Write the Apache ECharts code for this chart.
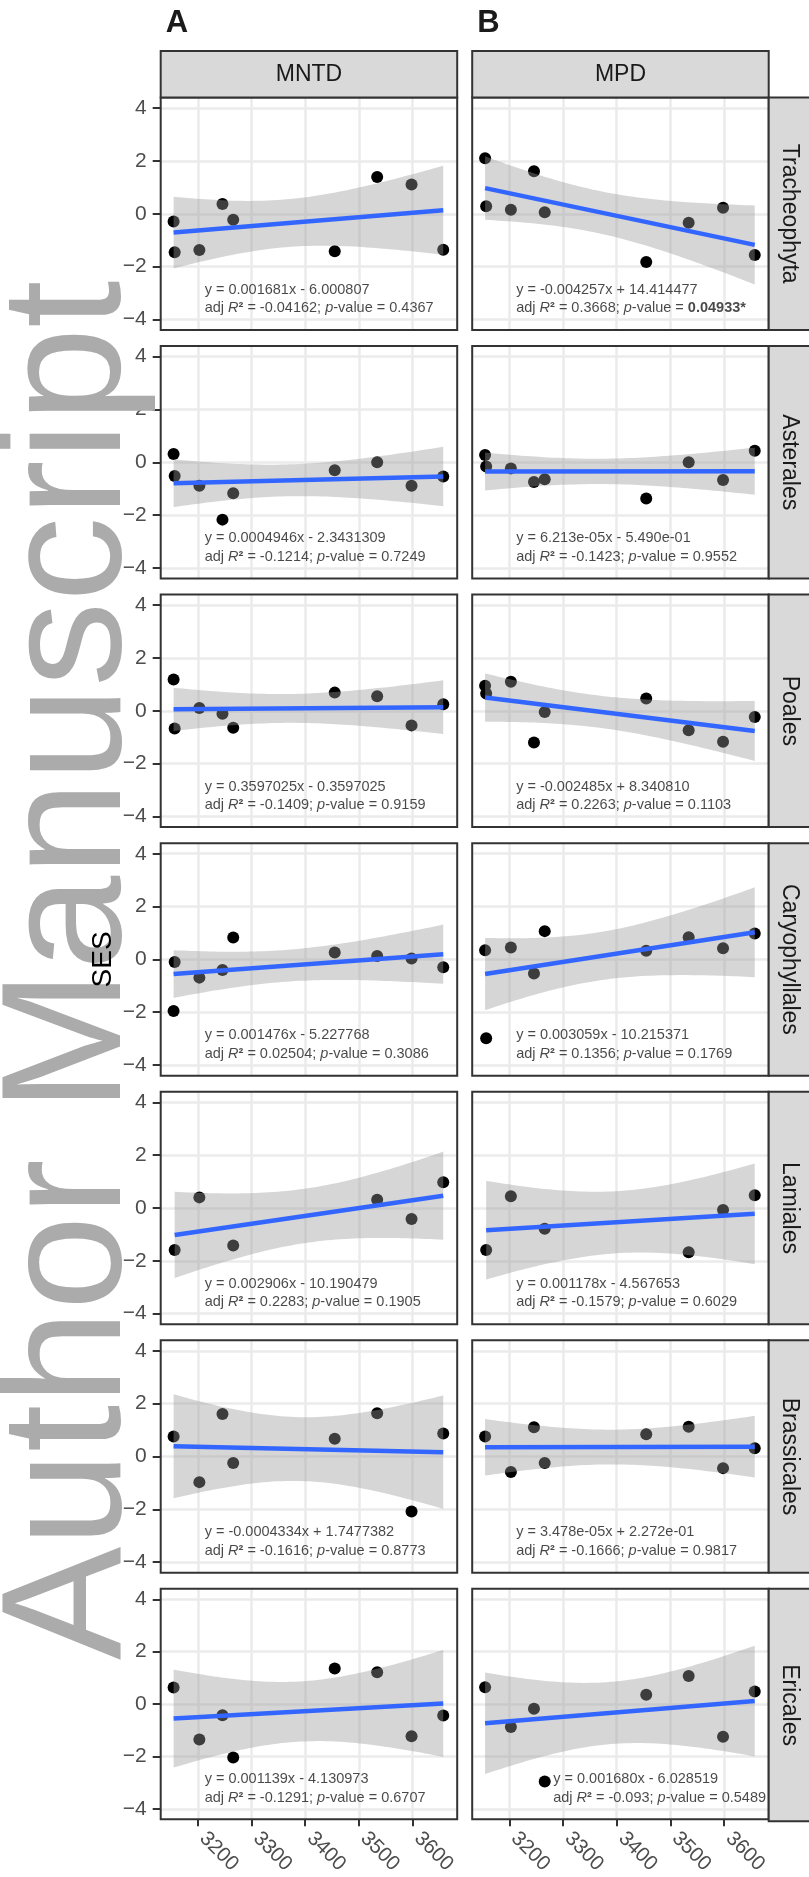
<!DOCTYPE html>
<html>
<head>
<meta charset="utf-8">
<script src="https://cdn.jsdelivr.net/npm/echarts@6/dist/echarts.min.js"></script>
<style>
html, body { margin: 0; padding: 0; background: #ffffff; }
#chart { width: 809px; height: 1877px; }
</style>
</head>
<body>
<div id="chart"></div>
<script>
// ---------------- data ----------------
const taxa = ['Tracheophyta', 'Asterales', 'Poales', 'Caryophyllales', 'Lamiales', 'Brassicales', 'Ericales'];
const metrics = ['MNTD', 'MPD'];
const elevation = [3155, 3157, 3203, 3246, 3266, 3455, 3534, 3598, 3657];
const xTicks = [3200, 3300, 3400, 3500, 3600];
const yTicks = [-4, -2, 0, 2, 4];

const tracheophytaMNTD = [-0.29, -1.46, -1.37, 0.37, -0.23, -1.42, 1.39, 1.11, -1.36];
const tracheophytaMPD = [2.10, 0.28, 0.15, 1.61, 0.06, -1.83, -0.34, 0.23, -1.56];
const asteralesMNTD = [0.31, -0.52, -0.89, -2.17, -1.17, -0.30, 0.00, -0.89, -0.54];
const asteralesMPD = [0.28, -0.16, -0.23, -0.75, -0.64, -1.37, 0.00, -0.67, 0.44];
const poalesMNTD = [1.19, -0.67, 0.11, -0.11, -0.64, 0.69, 0.55, -0.55, 0.25];
const poalesMPD = [0.95, 0.66, 1.10, -1.20, -0.04, 0.47, -0.73, -1.17, -0.23];
const caryophyllalesMNTD = [-1.95, -0.10, -0.69, -0.40, 0.83, 0.26, 0.13, 0.03, -0.30];
const caryophyllalesMPD = [0.35, -2.98, 0.45, -0.53, 1.07, 0.33, 0.84, 0.42, 0.98];
const lamialesMNTD = [null, -1.59, 0.40, null, -1.42, null, 0.31, -0.42, 0.97];
const lamialesMPD = [null, -1.59, 0.44, null, -0.79, null, -1.68, -0.08, 0.48];
const brassicalesMNTD = [0.76, null, -0.97, 1.61, -0.25, 0.67, 1.64, -2.08, 0.87];
const brassicalesMPD = [0.76, null, -0.59, 1.11, -0.25, 0.84, 1.13, -0.44, 0.31];
const ericalesMNTD = [0.63, null, -1.35, -0.43, -2.04, 1.36, 1.21, -1.23, -0.44];
const ericalesMPD = [0.64, null, -0.88, -0.18, -2.96, 0.35, 1.07, -1.25, 0.48];

const equationsMNTD = ['y = 0.001681x - 6.000807', 'y = 0.0004946x - 2.3431309', 'y = 0.3597025x - 0.3597025',
  'y = 0.001476x - 5.227768', 'y = 0.002906x - 10.190479', 'y = -0.0004334x + 1.7477382', 'y = 0.001139x - 4.130973'];
const equationsMPD = ['y = -0.004257x + 14.414477', 'y = 6.213e-05x - 5.490e-01', 'y = -0.002485x + 8.340810',
  'y = 0.003059x - 10.215371', 'y = 0.001178x - 4.567653', 'y = 3.478e-05x + 2.272e-01', 'y = 0.001680x - 6.028519'];
const adjR2MNTD = ['-0.04162', '-0.1214', '-0.1409', '0.02504', '0.2283', '-0.1616', '-0.1291'];
const adjR2MPD = ['0.3668', '-0.1423', '0.2263', '0.1356', '-0.1579', '-0.1666', '-0.093'];
const pValueMNTD = ['0.4367', '0.7249', '0.9159', '0.3086', '0.1905', '0.8773', '0.6707'];
const pValueMPD = ['0.04933', '0.9552', '0.1103', '0.1769', '0.6029', '0.9817', '0.5489'];
const significantMPD = [true, false, false, false, false, false, false];
const labelXMNTD = [3211, 3211, 3211, 3211, 3211, 3211, 3211];
const labelXMPD = [3211, 3211, 3211, 3211, 3211, 3211, 3280];
const labelY = -3.225;

const sesMNTD = [tracheophytaMNTD, asteralesMNTD, poalesMNTD, caryophyllalesMNTD, lamialesMNTD, brassicalesMNTD, ericalesMNTD];
const sesMPD = [tracheophytaMPD, asteralesMPD, poalesMPD, caryophyllalesMPD, lamialesMPD, brassicalesMPD, ericalesMPD];

// ---------------- layout ----------------
const colLeft = [160.7, 472.2];
const colWidth = 296.5;
const rowTop0 = 97.5;
const rowPitch = 248.55;
const rowHeight = 232.5;
const stripTop = 51;
const stripSide = 42;
const SANS = '"Liberation Sans", Arial, Helvetica, sans-serif';
const X_MIN = 3131, X_MAX = 3683, Y_MIN = -4.4, Y_MAX = 4.4;

const T975 = {4: 2.7764, 5: 2.5706, 6: 2.4469, 7: 2.3646};

function fitModel(xs, ys) {
  const pts = [];
  xs.forEach((x, i) => { if (ys[i] !== null) pts.push([x, ys[i]]); });
  const n = pts.length;
  const xbar = pts.reduce((a, p) => a + p[0], 0) / n;
  const ybar = pts.reduce((a, p) => a + p[1], 0) / n;
  let sxx = 0, sxy = 0;
  pts.forEach(p => { sxx += (p[0] - xbar) ** 2; sxy += (p[0] - xbar) * (p[1] - ybar); });
  const b = sxy / sxx, a = ybar - b * xbar;
  let sse = 0;
  pts.forEach(p => { sse += (p[1] - a - b * p[0]) ** 2; });
  const s = Math.sqrt(sse / (n - 2));
  const t = T975[n - 2];
  const xmin = Math.min(...pts.map(p => p[0])), xmax = Math.max(...pts.map(p => p[0]));
  const band = [];
  const steps = 60;
  for (let k = 0; k <= steps; k++) {
    const x = xmin + (xmax - xmin) * k / steps;
    const yh = a + b * x;
    const se = s * Math.sqrt(1 / n + (x - xbar) ** 2 / sxx);
    band.push([x, yh - t * se, yh + t * se]);
  }
  return { pts, a, b, xmin, xmax, band };
}

const grids = [], xAxes = [], yAxes = [], series = [];
const ANN = { fontFamily: SANS, fontSize: 14.5, color: '#1a1a1a', lineHeight: 18.5 };
const richStyles = {
  n: Object.assign({}, ANN),
  i: Object.assign({}, ANN, { fontStyle: 'italic' }),
  s: Object.assign({}, ANN, { fontWeight: 'bold' }),
  b: Object.assign({}, ANN, { fontWeight: 'bold' })
};

function annotation(eq, r2, p, sig) {
  const pPart = sig ? '{b|' + p + '*}' : '{n|' + p + '}';
  return '{n|' + eq + '}\n{n|adj }{i|R}{s|\u00b2}{n| = ' + r2 + '; }{i|p}{n|-value = }' + pPart;
}

taxa.forEach((taxon, r) => {
  metrics.forEach((metric, c) => {
    const gi = grids.length;
    const bottom = r === taxa.length - 1;
    grids.push({
      left: colLeft[c], top: rowTop0 + r * rowPitch, width: colWidth, height: rowHeight,
      show: true, borderColor: '#333333', borderWidth: 2, backgroundColor: 'transparent', z: 5
    });
    xAxes.push({
      type: 'value', gridIndex: gi, min: X_MIN, max: X_MAX, splitNumber: 5, minInterval: 100, maxInterval: 100,
      axisLine: { show: false, onZero: false },
      axisTick: { show: bottom, length: 7, lineStyle: { color: '#333333', width: 2 }, customValues: xTicks },
      axisLabel: {
        show: bottom, customValues: xTicks, rotate: -45, margin: 11, padding: [0, 0, 0, 7],
        fontFamily: SANS, fontSize: 20.5, color: '#4d4d4d',
        formatter: v => String(v)
      },
      splitLine: { show: true, lineStyle: { color: '#ebebeb', width: 2.5 } }
    });
    yAxes.push({
      type: 'value', gridIndex: gi, min: Y_MIN, max: Y_MAX, splitNumber: 5, minInterval: 2, maxInterval: 2,
      axisLine: { show: false, onZero: false },
      axisTick: { show: c === 0, length: 8, lineStyle: { color: '#333333', width: 2 }, customValues: yTicks },
      axisLabel: {
        show: c === 0, customValues: yTicks, margin: 14, fontFamily: SANS, fontSize: 21, color: '#4d4d4d',
        formatter: v => (v < 0 ? '\u2212' + Math.abs(v) : String(v))
      },
      splitLine: { show: true, lineStyle: { color: '#ebebeb', width: 2.5 } }
    });

    const ys = c === 0 ? sesMNTD[r] : sesMPD[r];
    const m = fitModel(elevation, ys);

    series.push({
      type: 'scatter', xAxisIndex: gi, yAxisIndex: gi, data: m.pts, symbolSize: 12,
      itemStyle: { color: '#000000', opacity: 1 }, z: 2, silent: true
    });
    series.push({
      type: 'custom', xAxisIndex: gi, yAxisIndex: gi, z: 3, silent: true, clip: true,
      data: [[m.band[0][0], m.band[0][1]]],
      renderItem: (params, api) => {
        const upper = m.band.map(q => api.coord([q[0], q[2]]));
        const lower = m.band.map(q => api.coord([q[0], q[1]])).reverse();
        return { type: 'polygon', shape: { points: upper.concat(lower) }, style: { fill: 'rgba(153,153,153,0.4)' } };
      }
    });
    series.push({
      type: 'line', xAxisIndex: gi, yAxisIndex: gi, z: 4, silent: true, symbol: 'none',
      data: [[m.xmin, m.a + m.b * m.xmin], [m.xmax, m.a + m.b * m.xmax]],
      lineStyle: { color: '#3366FF', width: 4.5 }
    });
    const eq = c === 0 ? equationsMNTD[r] : equationsMPD[r];
    const r2 = c === 0 ? adjR2MNTD[r] : adjR2MPD[r];
    const pv = c === 0 ? pValueMNTD[r] : pValueMPD[r];
    const sig = c === 0 ? false : significantMPD[r];
    const lx = c === 0 ? labelXMNTD[r] : labelXMPD[r];
    series.push({
      type: 'scatter', xAxisIndex: gi, yAxisIndex: gi, z: 6, silent: true, symbolSize: 2,
      itemStyle: { color: 'rgba(0,0,0,0)' },
      data: [[lx, labelY]],
      label: {
        show: true, position: 'right', distance: 0, align: 'left', verticalAlign: 'middle',
        formatter: annotation(eq, r2, pv, sig), rich: richStyles
      }
    });
  });
});

// ---------------- strips, titles, watermark ----------------
const graphics = [];
metrics.forEach((metric, c) => {
  graphics.push({
    type: 'rect', shape: { x: colLeft[c], y: stripTop, width: colWidth, height: rowTop0 - stripTop },
    style: { fill: '#d9d9d9', stroke: '#333333', lineWidth: 2 }, z: 10
  });
  graphics.push({
    type: 'text', x: colLeft[c] + colWidth / 2, y: (stripTop + rowTop0) / 2, z: 11,
    style: { text: metric, fill: '#1a1a1a', font: '23px ' + SANS, textAlign: 'center', textVerticalAlign: 'middle' }
  });
});
taxa.forEach((taxon, r) => {
  const top = rowTop0 + r * rowPitch;
  const sx = colLeft[1] + colWidth;
  graphics.push({
    type: 'rect', shape: { x: sx, y: top, width: stripSide, height: rowHeight },
    style: { fill: '#d9d9d9', stroke: '#333333', lineWidth: 2 }, z: 10
  });
  graphics.push({
    type: 'text', x: sx + 20.5, y: top + rowHeight / 2, rotation: -Math.PI / 2, z: 11,
    style: { text: taxon, fill: '#1a1a1a', font: '23px ' + SANS, textAlign: 'center', textVerticalAlign: 'middle' }
  });
});
['A', 'B'].forEach((lab, c) => {
  graphics.push({
    type: 'text', x: colLeft[c] + 5, y: 23, z: 11,
    style: { text: lab, fill: '#1a1a1a', font: 'bold 31px ' + SANS, textAlign: 'left', textVerticalAlign: 'middle' }
  });
});
graphics.push({
  type: 'text', x: 73, y: 1660, rotation: Math.PI / 2, z: 100,
  style: { text: 'Author Manuscript', fill: '#ababab', font: '170px ' + SANS, textAlign: 'left', textVerticalAlign: 'middle' }
});
graphics.push({
  type: 'text', x: 103.5, y: rowTop0 + 3 * rowPitch + rowHeight / 2, rotation: Math.PI / 2, z: 110,
  style: { text: 'SES', fill: '#000000', font: '28px ' + SANS, textAlign: 'center', textVerticalAlign: 'middle' }
});

const chart = echarts.init(document.getElementById('chart'), null, { renderer: 'canvas' });
chart.setOption({
  animation: false,
  backgroundColor: '#ffffff',
  grid: grids,
  xAxis: xAxes,
  yAxis: yAxes,
  series: series,
  graphic: { elements: graphics }
});
</script>
</body>
</html>
